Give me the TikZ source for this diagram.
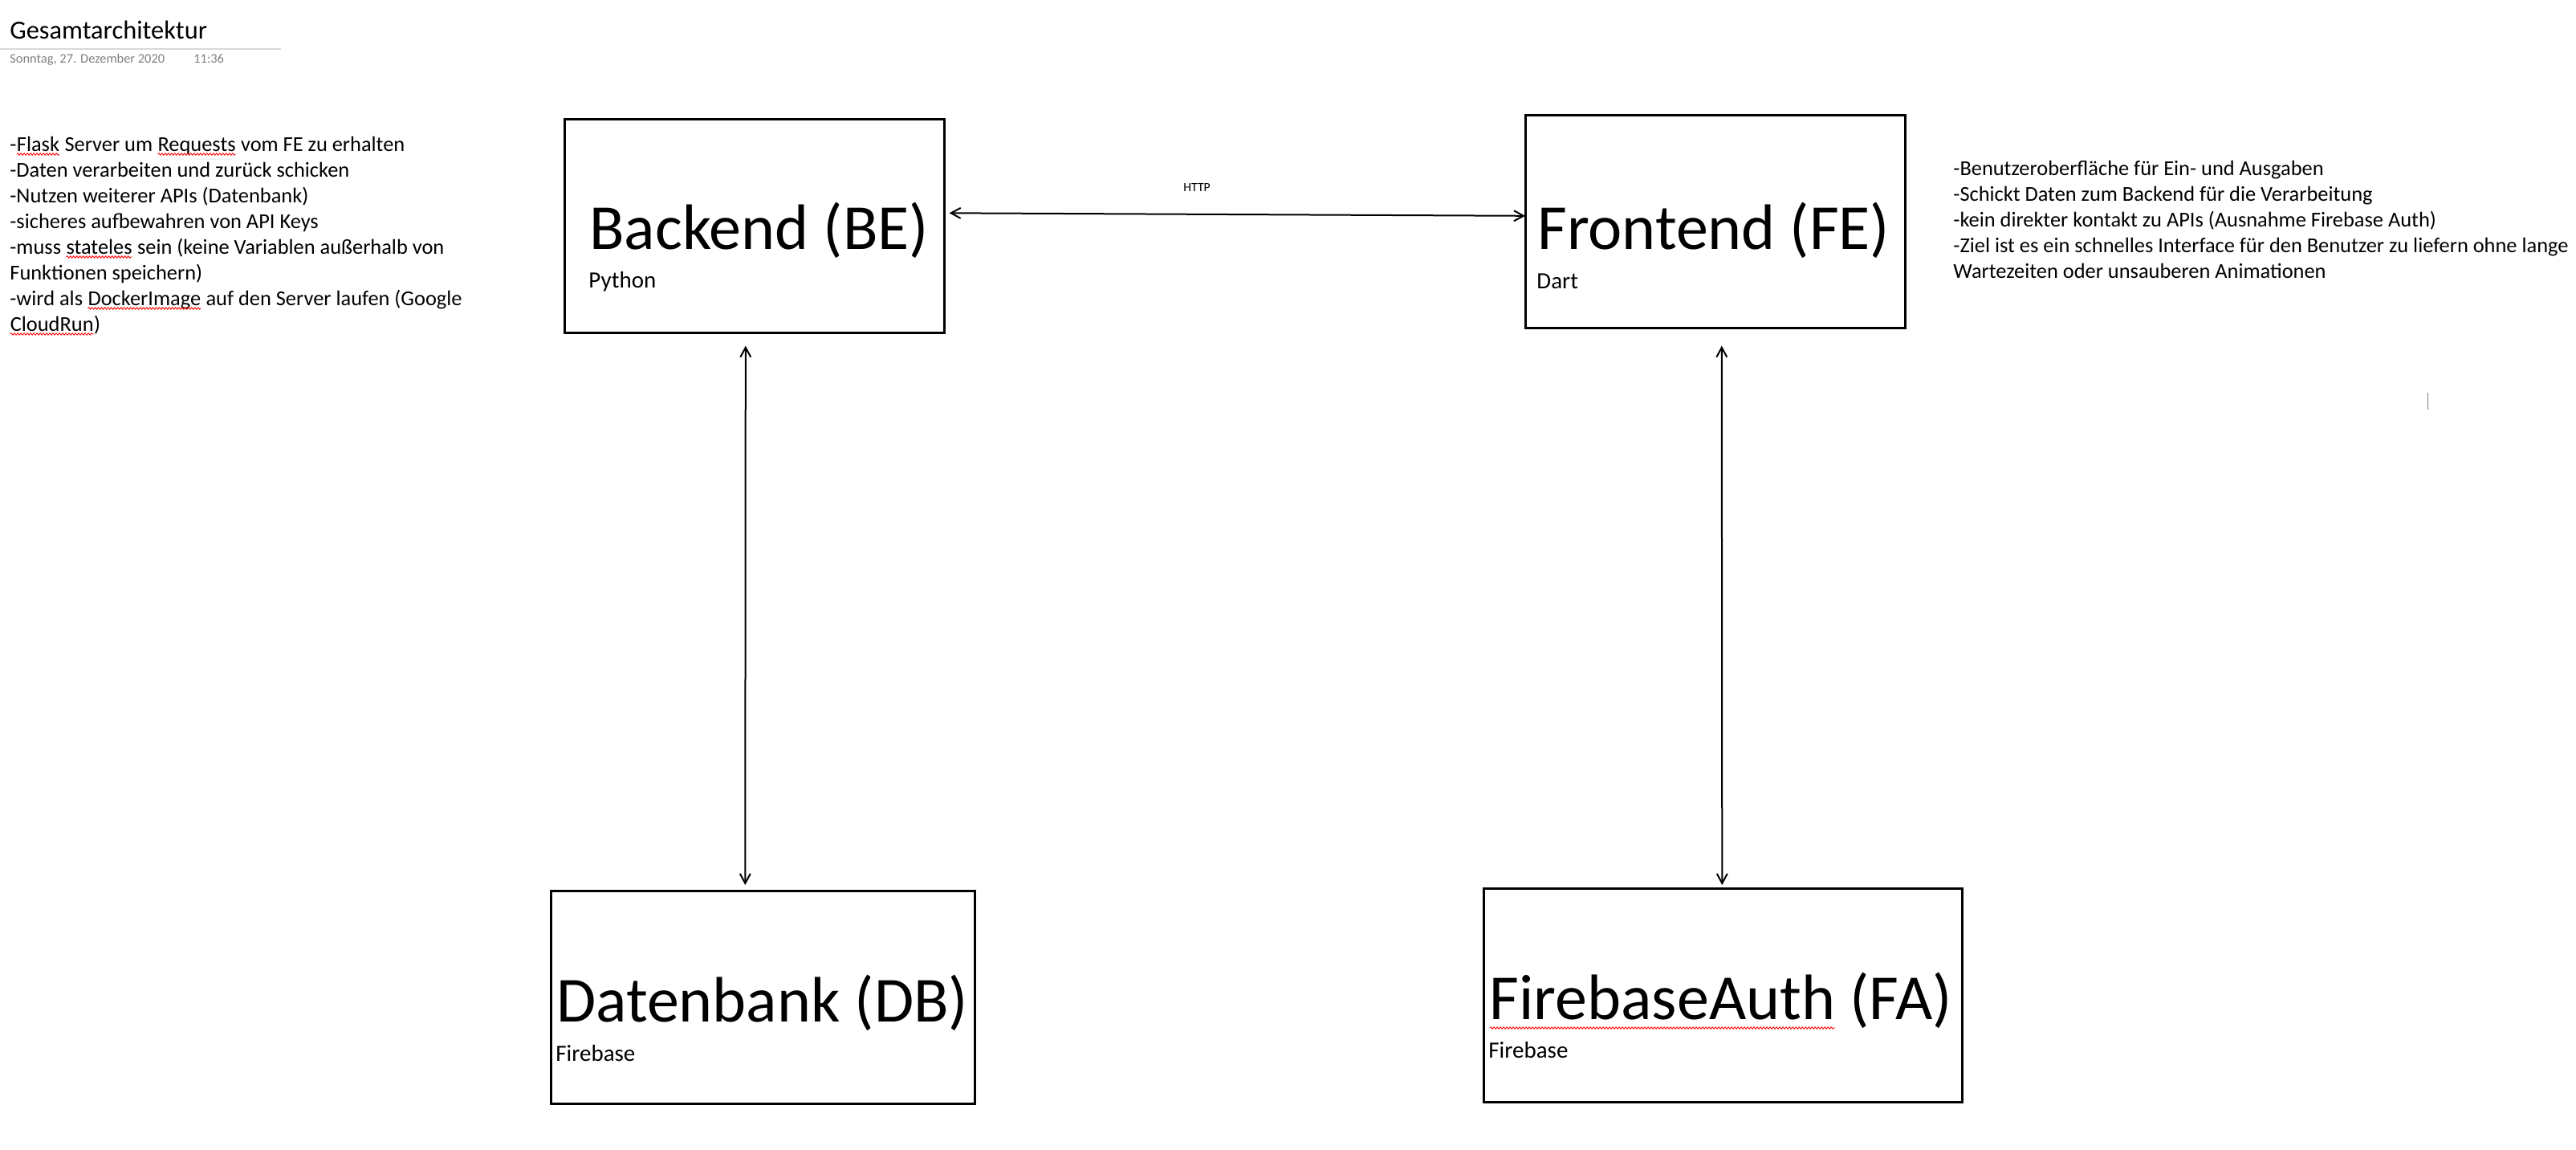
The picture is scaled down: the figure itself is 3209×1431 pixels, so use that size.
\documentclass[tikz,border=0pt]{standalone}
\usepackage{fontspec}
\setmainfont{Carlito}
\usetikzlibrary{arrows.meta,decorations.pathmorphing}
\newcommand\wavy[2][2pt]{\tikz[baseline=(w.base)]{\node[inner sep=0pt,outer sep=0pt,anchor=base west] (w) at (0,0) {#2};
  \draw[red,line width=0.45pt,decorate,decoration={snake,amplitude=0.6pt,segment length=2pt}] ([yshift=-#1]w.base west) -- ([yshift=-#1]w.base east);}}

\tikzset{box/.style={draw,line width=1.3pt,inner sep=0pt,anchor=north west},
         bigname/.style={anchor=base west,inner sep=0pt,font=\fontsize{40}{48}\selectfont},
         smallname/.style={anchor=base west,inner sep=0pt,font=\fontsize{14.5}{17}\selectfont},
         notes/.style={anchor=base west,inner sep=0pt,align=left,font=\fontsize{13.2}{16}\selectfont},
         tiny/.style={anchor=base west,inner sep=0pt,font=\fontsize{8.2}{10}\selectfont},
         link/.style={{Straight Barb[length=6pt,width=6.5pt]}-{Straight Barb[length=6pt,width=6.5pt]},line width=1pt}}

\begin{document}
\begin{tikzpicture}[x=0.5pt,y=-0.5pt]
                  \useasboundingbox (0,0) rectangle (3209,1431);
                  \node[anchor=base west,inner sep=0pt,font=\fontsize{16.2}{19}\selectfont] (title) at (12,48) {Gesamtarchitektur};
                  \draw[gray!30,line width=0.6pt] (0,61) -- (350,61);
                  \node[tiny,text=gray] (date) at (12,78) {Sonntag, 27. Dezember 2020};
                  \node[tiny,text=gray] (time) at (241,78) {11:36};
                  \node[notes] (benotes) at (12,412) {-\wavy{Flask} Server um \wavy{Requests} vom FE zu erhalten\\-Daten verarbeiten und zurück schicken\\-Nutzen weiterer APIs (Datenbank)\\-sicheres aufbewahren von API Keys\\-muss \wavy{stateles} sein (keine Variablen außerhalb von\\Funktionen speichern)\\-wird als \wavy{DockerImage} auf den Server laufen (Google\\\wavy{CloudRun})};
                  \node[notes] (fenotes) at (2433,346) {-Benutzeroberfläche für Ein- und Ausgaben\\-Schickt Daten zum Backend für die Verarbeitung\\-kein direkter kontakt zu APIs (Ausnahme Firebase Auth)\\-Ziel ist es ein schnelles Interface für den Benutzer zu liefern ohne lange\\Wartezeiten oder unsauberen Animationen};
                  \node[box,minimum width=236.5pt,minimum height=133pt] (be) at (702,147) {};
                  \node[box,minimum width=236.5pt,minimum height=132.5pt] (fe) at (1899,142) {};
                  \node[box,minimum width=264pt,minimum height=132.5pt] (db) at (685,1108) {};
                  \node[box,minimum width=298pt,minimum height=133pt] (fa) at (1847,1105) {};
                  \node[bigname] (bename) at ([shift={(32,163)}]be.north west) {Backend (BE)};
                  \node[smallname] (belang) at ([shift={(31,211)}]be.north west) {Python};
                  \node[bigname] (fename) at ([shift={(16,168)}]fe.north west) {Frontend (FE)};
                  \node[smallname] (felang) at ([shift={(15,217)}]fe.north west) {Dart};
                  \node[bigname] (dbname) at ([shift={(8,164)}]db.north west) {Datenbank (DB)};
                  \node[smallname] (dblang) at ([shift={(7,213)}]db.north west) {Firebase};
                  \node[bigname] (faname) at ([shift={(8,164)}]fa.north west) {\wavy[5.5pt]{FirebaseAuth} (FA)};
                  \node[smallname] (falang) at ([shift={(7,212)}]fa.north west) {Firebase};
                  \draw[link] ([shift={(5,-16)}]be.east) -- node[tiny,pos=0.43,anchor=base,yshift=14pt,font=\fontsize{7.8}{9}\selectfont] (http) {HTTP} ([shift={(1,-7)}]fe.west);
                  \draw[link] ([shift={(-11,15)}]be.south) -- ([shift={(-22,-6)}]db.north);
                  \draw[link] ([shift={(8,21)}]fe.south) -- ([shift={(-1,-3)}]fa.north);
                  \draw[gray,line width=0.5pt] (3024,489) -- (3024,510);
              \end{tikzpicture}
\end{document}
